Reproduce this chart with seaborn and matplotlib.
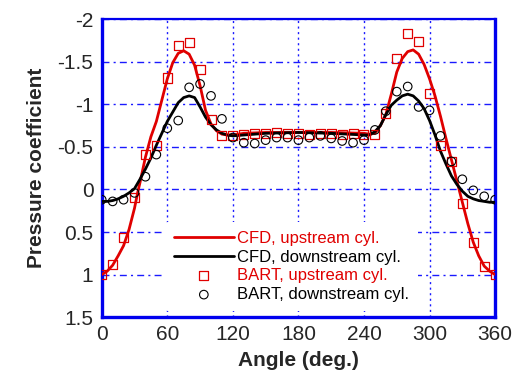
import matplotlib
matplotlib.use("Agg")
import matplotlib.pyplot as plt
import seaborn as sns
from matplotlib.ticker import FuncFormatter

# experimental points (BART), every 10 degrees
bart_angle = [0, 10, 20, 30, 40, 50, 60, 70, 80, 90, 100, 110, 120, 130, 140, 150,
              160, 170, 180, 190, 200, 210, 220, 230, 240, 250, 260, 270, 280, 290,
              300, 310, 320, 330, 340, 350, 360]
bart_up = [1.00, 0.88, 0.57, 0.10, -0.41, -0.52, -1.31, -1.69, -1.73, -1.41, -0.82,
           -0.63, -0.63, -0.65, -0.66, -0.66, -0.67, -0.66, -0.66, -0.65, -0.66,
           -0.66, -0.65, -0.66, -0.65, -0.65, -0.89, -1.54, -1.83, -1.74, -1.13,
           -0.52, -0.33, 0.17, 0.62, 0.90, 1.00]
bart_down = [0.12, 0.14, 0.12, 0.04, -0.15, -0.41, -0.72, -0.81, -1.20, -1.24, -1.10,
             -0.83, -0.61, -0.55, -0.54, -0.58, -0.61, -0.61, -0.58, -0.61, -0.63,
             -0.60, -0.57, -0.55, -0.58, -0.70, -0.92, -1.15, -1.21, -0.97, -0.93,
             -0.63, -0.33, -0.12, 0.01, 0.08, 0.12]

# CFD curves
cfd_up_angle = [0, 5, 10, 15, 20, 25, 30, 33, 35, 40, 45, 50, 55, 60, 65, 70, 75, 80,
                85, 90, 95, 100, 105, 110, 115, 120, 130, 150, 180, 210, 240, 245,
                250, 255, 260, 265, 270, 275, 280, 285, 290, 295, 300, 305, 310, 315,
                320, 325, 330, 335, 340, 345, 350, 355, 360]
cfd_up = [1.00, 0.96, 0.89, 0.78, 0.66, 0.47, 0.22, 0.03, -0.08, -0.38, -0.62, -0.80,
          -1.05, -1.30, -1.49, -1.60, -1.63, -1.59, -1.46, -1.22, -0.93, -0.77, -0.69,
          -0.65, -0.64, -0.64, -0.66, -0.67, -0.67, -0.67, -0.66, -0.65, -0.66, -0.75,
          -0.88, -1.12, -1.38, -1.54, -1.62, -1.64, -1.59, -1.47, -1.30, -1.10, -0.86,
          -0.60, -0.35, -0.10, 0.15, 0.40, 0.62, 0.78, 0.90, 0.96, 1.00]

cfd_down_angle = [0, 5, 10, 15, 20, 25, 30, 35, 40, 45, 50, 55, 60, 65, 70, 75, 80, 85,
                  90, 95, 100, 105, 110, 115, 120, 130, 150, 180, 210, 240, 245, 250,
                  255, 260, 265, 270, 275, 280, 285, 290, 295, 300, 305, 310, 315, 320,
                  325, 330, 335, 340, 345, 350, 355, 360]
cfd_down = [0.14, 0.14, 0.13, 0.11, 0.08, 0.04, -0.01, -0.12, -0.24, -0.37, -0.52,
            -0.66, -0.80, -0.91, -1.02, -1.08, -1.10, -1.08, -0.97, -0.85, -0.76, -0.70,
            -0.66, -0.64, -0.63, -0.64, -0.66, -0.67, -0.66, -0.64, -0.64, -0.68, -0.75,
            -0.88, -0.99, -1.05, -1.10, -1.12, -1.10, -1.04, -0.95, -0.81, -0.64, -0.45,
            -0.30, -0.16, -0.06, 0.02, 0.08, 0.11, 0.13, 0.14, 0.15, 0.15]

x_ticks = [0, 60, 120, 180, 240, 300, 360]
y_ticks = [-2, -1.5, -1, -0.5, 0, 0.5, 1, 1.5]

sns.set_style("white")
plt.rcParams['font.family'] = ['Liberation Sans', 'DejaVu Sans']

fig = plt.figure(figsize=(5.19, 3.78), dpi=100)
ax = fig.add_axes([0.196, 0.161, 0.758, 0.788])

red = '#e00000'
sns.lineplot(x=cfd_up_angle, y=cfd_up, ax=ax, color=red, linewidth=2.0,
             sort=False, estimator=None, label='CFD, upstream cyl.', zorder=3)
sns.lineplot(x=cfd_down_angle, y=cfd_down, ax=ax, color='black', linewidth=2.0,
             sort=False, estimator=None, label='CFD, downstream cyl.', zorder=3)
sns.scatterplot(x=bart_angle, y=bart_up, ax=ax, marker='s', s=42,
                facecolor='none', edgecolor=red, linewidth=0.9,
                label='BART, upstream cyl.', zorder=4)
sns.scatterplot(x=bart_angle, y=bart_down, ax=ax, marker='o', s=38,
                facecolor='none', edgecolor='black', linewidth=0.8,
                label='BART, downstream cyl.', zorder=4)

ax.set_xlim(0, 360)
ax.set_ylim(1.5, -2)
ax.set_xticks(x_ticks)
ax.set_yticks(y_ticks)
ax.yaxis.set_major_formatter(FuncFormatter(lambda v, p: '%g' % v))

ax.xaxis.grid(True, color='#1a1aff', linewidth=1.0, linestyle=(0, (1.5, 2.5)))
ax.yaxis.grid(True, color='#1a1aff', linewidth=1.0, linestyle=(0, (5, 3, 1.5, 3)))
ax.set_axisbelow(True)

for side in ['left', 'bottom', 'right']:
    ax.spines[side].set_color('#0000ee')
    ax.spines[side].set_linewidth(2.4)
ax.spines['top'].set_color('#0000ee')
ax.spines['top'].set_linewidth(1.6)

ax.tick_params(axis='both', direction='in', length=3, color='#0000ee',
               labelsize=15, pad=6)

ax.set_xlabel('Angle (deg.)', fontsize=15, fontweight='bold', labelpad=5)
ax.set_ylabel('Pressure coefficient', fontsize=15, fontweight='bold', labelpad=8)

leg = ax.legend(loc='upper left', bbox_to_anchor=(0.16, 0.32), fontsize=12,
                frameon=True, handlelength=3.6, handletextpad=0.2,
                labelspacing=0.22, borderpad=0.55, borderaxespad=0)
leg.get_frame().set_facecolor('white')
leg.get_frame().set_edgecolor('none')
leg.get_frame().set_alpha(1)
leg.set_zorder(5)
for txt, col in zip(leg.get_texts(), [red, 'black', red, 'black']):
    txt.set_color(col)

fig.savefig('out.png', dpi=100)
